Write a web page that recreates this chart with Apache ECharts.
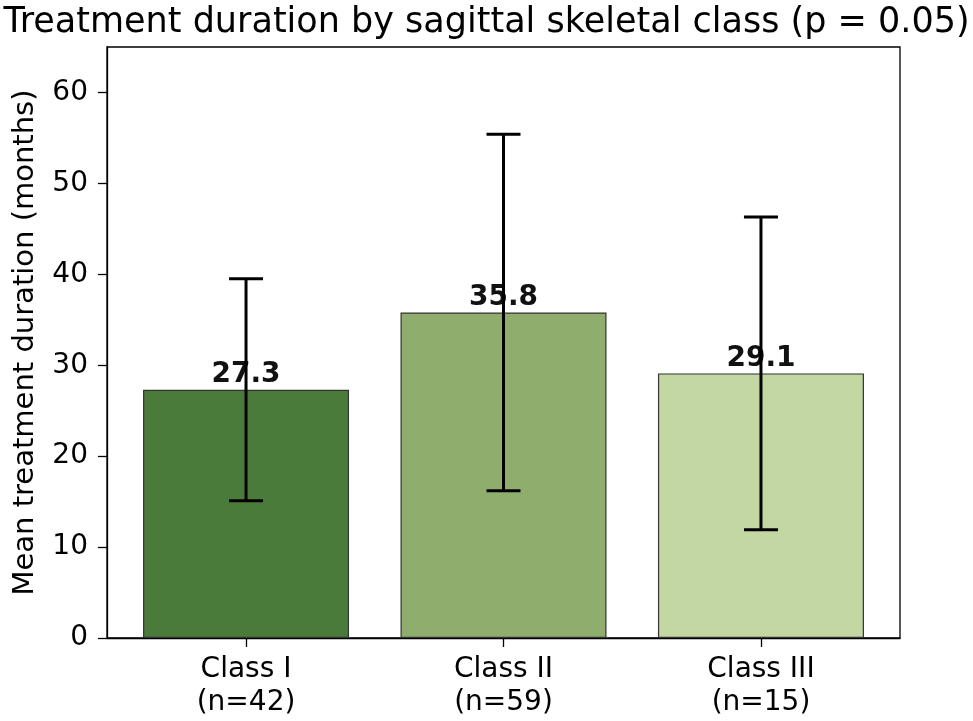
<!DOCTYPE html>
<html>
<head>
<meta charset="utf-8">
<script src="https://cdn.jsdelivr.net/npm/echarts@6/dist/echarts.min.js"></script>
<style>html,body{margin:0;padding:0;background:#fff}#c{width:973px;height:721px}</style>
</head>
<body>
<div id="c"></div>
<script>
const categories = ['Class I\n(n=42)', 'Class II\n(n=59)', 'Class III\n(n=15)'];
const means = [27.3, 35.8, 29.1];
const sds = [12.2, 19.6, 17.2];
const yTicks = [0, 10, 20, 30, 40, 50, 60];
const barColors = ['#4b7b3a', '#8fae6d', '#c3d7a2'];
const titleText = 'Treatment duration by sagittal skeletal class (p = 0.05)';
const yName = 'Mean treatment duration (months)';

const font = 'DejaVu Sans';
const chart = echarts.init(document.getElementById('c'));
const xIdx = categories.map((_, i) => i);

chart.setOption({
  animation: false,
  backgroundColor: '#fff',
  title: {
    text: titleText, left: 'center', top: 0,
    textStyle: { fontFamily: font, fontSize: 35, fontWeight: 'normal', color: '#000' }
  },
  grid: { left: 107, right: 73, top: 47, bottom: 83, show: true, borderColor: '#000', borderWidth: 1.3, backgroundColor: 'transparent' },
  xAxis: {
    type: 'value', min: -0.54, max: 2.54,
    splitLine: { show: false },
    axisLine: { show: true, onZero: false, lineStyle: { color: '#000', width: 1.3 } },
    axisTick: { show: true, customValues: xIdx, length: 9, lineStyle: { color: '#000', width: 1.3 } },
    axisLabel: {
      customValues: xIdx, margin: 15,
      formatter: v => categories[Math.round(v)],
      fontFamily: font, fontSize: 28, color: '#000', lineHeight: 33
    }
  },
  yAxis: {
    type: 'value', min: 0, max: 65,
    name: yName, nameLocation: 'middle', nameGap: 67,
    nameTextStyle: { fontFamily: font, fontSize: 29, color: '#000' },
    splitLine: { show: false },
    axisLine: { show: true, onZero: false, lineStyle: { color: '#000', width: 1.3 } },
    axisTick: { show: true, customValues: yTicks, length: 9, lineStyle: { color: '#000', width: 1.3 } },
    axisLabel: { customValues: yTicks, margin: 19, fontFamily: font, fontSize: 28, color: '#000' }
  },
  series: [
    {
      type: 'bar', z: 2,
      barWidth: 206,
      data: means.map((m, i) => ({ value: [i, m], itemStyle: { color: barColors[i] } })),
      itemStyle: { borderColor: '#333', borderWidth: 1.2 },
      label: {
        show: true, position: 'top', distance: 1,
        formatter: p => p.value[1].toFixed(1),
        fontFamily: font, fontSize: 28, fontWeight: 'bold', color: '#111'
      }
    },
    {
      type: 'custom', z: 10,
      data: means.map((m, i) => [i, m - sds[i], m + sds[i]]),
      renderItem: (params, api) => {
        const x = api.value(0);
        const lo = api.coord([x, api.value(1)]);
        const hi = api.coord([x, api.value(2)]);
        const cap = 17;
        const st = { stroke: '#000', lineWidth: 3 };
        return {
          type: 'group',
          children: [
            { type: 'line', shape: { x1: lo[0], y1: lo[1], x2: hi[0], y2: hi[1] }, style: st },
            { type: 'line', shape: { x1: lo[0] - cap, y1: lo[1], x2: lo[0] + cap, y2: lo[1] }, style: st },
            { type: 'line', shape: { x1: hi[0] - cap, y1: hi[1], x2: hi[0] + cap, y2: hi[1] }, style: st }
          ]
        };
      }
    }
  ]
});
</script>
</body>
</html>
